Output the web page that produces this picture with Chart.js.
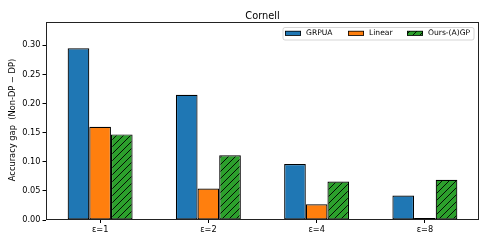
<!DOCTYPE html>
<html>
<head>
<meta charset="utf-8">
<script src="https://cdn.jsdelivr.net/npm/chart.js@4.4.0/dist/chart.umd.min.js"></script>
<style>
html,body{margin:0;padding:0;background:#fff;}
#wrap{width:488px;height:244px;position:relative;}
</style>
</head>
<body>
<div id="wrap"><canvas id="c" width="488" height="244"></canvas></div>
<script>
const chartTitle = 'Cornell';
const categories = ['ε=1', 'ε=2', 'ε=4', 'ε=8'];
const seriesNames = ['GRPUA', 'Linear', 'Ours-(A)GP'];
const grpua = [0.295, 0.215, 0.096, 0.042];
const linear = [0.160, 0.054, 0.027, 0.002];
const ours = [0.147, 0.111, 0.066, 0.069];
const yMax = 0.34;
const yStep = 0.05;
const yTickMax = 0.30;
const yTitle = 'Accuracy gap  (Non-DP \u2212 DP)';

const FONT = "'DejaVu Sans', sans-serif";

function hatch(color) {
  const s = 7;
  const p = document.createElement('canvas');
  p.width = s; p.height = s;
  const g = p.getContext('2d');
  g.fillStyle = color;
  g.fillRect(0, 0, s, s);
  g.strokeStyle = '#000';
  g.lineWidth = 0.9;
  g.beginPath();
  g.moveTo(0, s); g.lineTo(s, 0);
  g.moveTo(-1, 1); g.lineTo(1, -1);
  g.moveTo(s - 1, s + 1); g.lineTo(s + 1, s - 1);
  g.stroke();
  return g.createPattern(p, 'repeat');
}

const ctx = document.getElementById('c').getContext('2d');
const greenHatch = hatch('#2ca02c');

const framePlugin = {
  id: 'frame',
  afterDraw(chart) {
    const c = chart.ctx, a = chart.chartArea;
    c.save();
    c.strokeStyle = '#222';
    c.lineWidth = 1;
    c.strokeRect(Math.round(a.left) + 0.5, Math.round(a.top) + 0.5,
                 Math.round(a.right - a.left) - 1, Math.round(a.bottom - a.top) - 1);
    // title
    c.fillStyle = '#000';
    c.font = '9.8px ' + FONT;
    c.textAlign = 'center';
    c.textBaseline = 'alphabetic';
    c.fillText(chartTitle, (a.left + a.right) / 2, 18.5);
    // y title
    c.save();
    c.translate(13, (a.top + a.bottom) / 2 - 1);
    c.rotate(-Math.PI / 2);
    c.font = '8.3px ' + FONT;
    c.textAlign = 'center';
    c.textBaseline = 'middle';
    c.fillText(yTitle, 0, 0);
    c.restore();
    // legend
    const fills = chart.data.datasets.map(d => d.legendFill);
    const names = chart.data.datasets.map(d => d.label);
    c.font = '7.6px ' + FONT;
    const bx = 283, by = 27.5, bw = 191, bh = 12.5;
    c.fillStyle = 'rgba(255,255,255,0.8)';
    c.strokeStyle = '#ccc';
    c.lineWidth = 0.8;
    c.beginPath();
    c.roundRect(bx, by, bw, bh, 2);
    c.fill(); c.stroke();
    const xs = [285, 348, 407];
    for (let i = 0; i < names.length; i++) {
      c.fillStyle = fills[i];
      c.fillRect(xs[i], 31, 16, 4.5);
      c.strokeStyle = '#000';
      c.lineWidth = 0.8;
      c.strokeRect(xs[i] + 0.4, 31.2, 15.2, 4.3);
      c.fillStyle = '#000';
      c.textAlign = 'left';
      c.textBaseline = 'middle';
      c.fillText(names[i], xs[i] + 21, 33.5);
    }
    c.restore();
  }
};

new Chart(ctx, {
  type: 'bar',
  data: {
    labels: categories,
    datasets: [
      { label: seriesNames[0], data: grpua, backgroundColor: '#1f77b4', legendFill: '#1f77b4' },
      { label: seriesNames[1], data: linear, backgroundColor: '#ff7f0e', legendFill: '#ff7f0e', minBarLength: 2 },
      { label: seriesNames[2], data: ours, backgroundColor: greenHatch, legendFill: greenHatch }
    ].map(d => Object.assign(d, {
      borderColor: '#000', borderWidth: 1.2, borderSkipped: false,
      categoryPercentage: 0.6, barPercentage: 1.0
    }))
  },
  options: {
    responsive: false,
    animation: false,
    devicePixelRatio: 1,
    layout: { padding: { top: 22, right: 9, left: 0, bottom: 0 } },
    plugins: { legend: { display: false }, title: { display: false }, tooltip: { enabled: false } },
    scales: {
      x: {
        offset: true,
        border: { display: false },
        grid: { drawOnChartArea: false, drawTicks: true, tickLength: 3, color: '#000', offset: false },
        ticks: { color: '#000', font: { family: FONT, size: 8.2 }, padding: 2 },
        afterFit(s) { s.height = 24; }
      },
      y: {
        min: 0, max: yMax,
        border: { display: false },
        grid: { drawOnChartArea: false, drawTicks: true, tickLength: 3.5, color: '#000' },
        afterBuildTicks(s) { s.ticks = s.ticks.filter(t => t.value <= yTickMax + 1e-9); },
        ticks: {
          stepSize: yStep, color: '#000', font: { family: FONT, size: 8.2 }, padding: 2,
          callback: v => v.toFixed(2)
        },
        afterFit(s) { s.width = 46; }
      }
    }
  },
  plugins: [framePlugin]
});
</script>
</body>
</html>
